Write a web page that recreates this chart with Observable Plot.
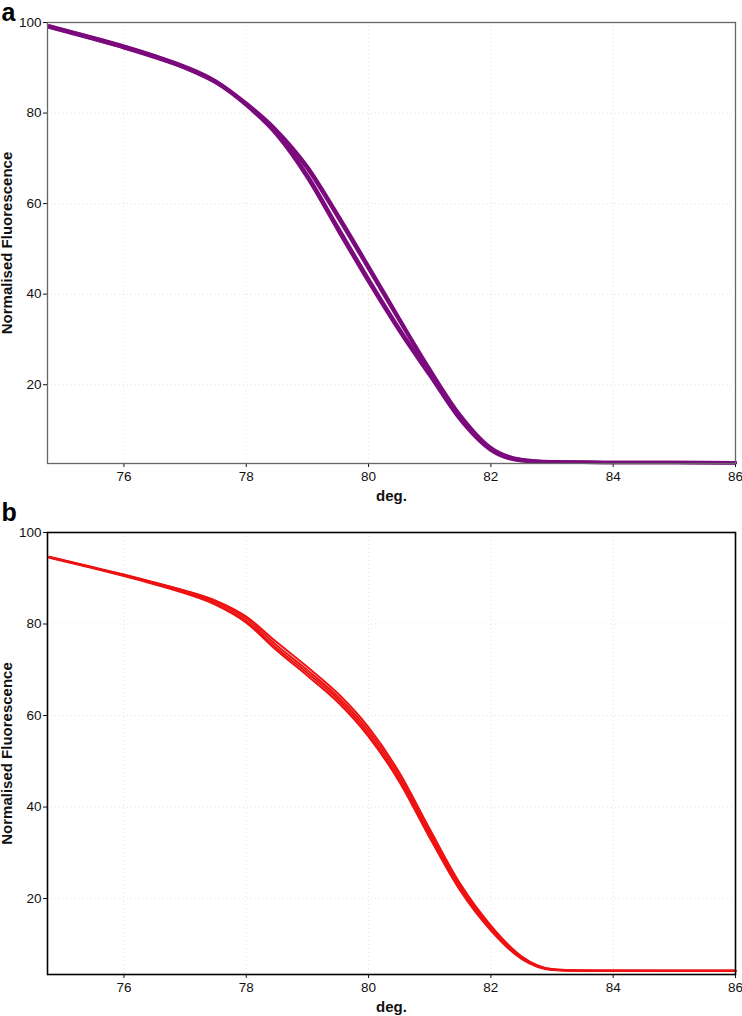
<!DOCTYPE html>
<html><head><meta charset="utf-8">
<script src="https://cdn.jsdelivr.net/npm/d3@7"></script>
<script src="https://cdn.jsdelivr.net/npm/@observablehq/plot@0.6"></script>
<style>
body{margin:0;background:#fff;}
#chart{width:742px;height:1016px;position:relative;background:#fff;}
svg{display:block}
g[aria-label="x-axis label"] text, g[aria-label="y-axis label"] text{font-weight:bold;font-size:15px;}
</style></head><body><div id="chart"></div>
<script>
// Temperatures (deg.)
const temps = [74.78, 75.5, 76, 76.5, 77, 77.5, 78, 78.5, 79, 79.5, 80, 80.5, 81, 81.5, 82, 82.5, 83, 83.5, 84, 85, 86];

// Panel a replicates (purple)
const a1 = [99.3, 96.7, 94.8, 92.7, 90.3, 87.1, 82.0, 75.5, 66.3, 54.8, 43.4, 32.5, 22.4, 12.5, 5.7, 3.3, 2.95, 2.9, 2.85, 2.85, 2.8];
const a2 = [99.0, 96.4, 94.5, 92.4, 90.0, 86.8, 81.7, 75.1, 65.7, 54.1, 42.7, 31.9, 22.0, 12.2, 5.5, 3.2, 2.9, 2.85, 2.8, 2.8, 2.75];
const a3 = [99.1, 96.6, 94.7, 92.6, 90.2, 87.0, 82.2, 76.2, 68.2, 57.5, 46.2, 34.7, 23.5, 13.3, 6.1, 3.5, 3.0, 2.9, 2.85, 2.85, 2.8];
const a4 = [98.9, 96.3, 94.4, 92.3, 89.9, 86.7, 81.9, 75.9, 67.7, 56.9, 45.6, 34.2, 23.1, 13.0, 5.9, 3.4, 2.95, 2.85, 2.8, 2.8, 2.75];

// Panel b replicates (red)
const b1 = [94.7, 92.4, 90.8, 89.1, 87.3, 85.1, 81.6, 76.0, 70.6, 64.8, 57.4, 47.6, 35.2, 23.2, 14.1, 7.4, 4.6, 4.3, 4.25, 4.2, 4.2];
const b2 = [94.6, 92.3, 90.7, 89.0, 87.2, 84.9, 81.2, 75.3, 69.9, 64.1, 56.7, 46.9, 34.5, 22.6, 13.7, 7.2, 4.5, 4.25, 4.2, 4.2, 4.2];
const b3 = [94.5, 92.2, 90.5, 88.7, 86.7, 84.2, 80.3, 74.2, 68.7, 62.9, 55.4, 45.6, 33.3, 21.7, 13.0, 6.8, 4.4, 4.2, 4.2, 4.2, 4.2];
const b4 = [94.6, 92.3, 90.6, 88.9, 86.9, 84.5, 80.7, 74.7, 69.3, 63.5, 56.0, 46.2, 33.9, 22.1, 13.3, 7.0, 4.45, 4.2, 4.2, 4.2, 4.2];

const xTicks = [76, 78, 80, 82, 84, 86];
const yTicks = [20, 40, 60, 80, 100];

function rows(series) {
  return series.flatMap((vals, i) => vals.map((v, j) => ({t: temps[j], v, rep: i})));
}

function panel({series, color, lineWidth, yMin, frameColor, frameWidth, letter, letterDy, letterAnchor, height, marginBottom}) {
  const grid = {stroke: "#ecd9b6", strokeOpacity: 0.8, strokeDasharray: "1,3", strokeWidth: 1};
  return Plot.plot({
    width: 742, height, marginTop: 22, marginLeft: 47, marginRight: 7, marginBottom,
    style: {fontFamily: "'Liberation Sans', Arial, sans-serif", fontSize: "13.5px", color: "#111", background: "#fff", overflow: "visible"},
    x: {domain: [74.75, 86]},
    y: {domain: [yMin, 100]},
    marks: [
      Plot.gridX(xTicks, grid),
      Plot.gridY(yTicks, grid),
      Plot.axisX({ticks: xTicks, tickSize: 4, tickPadding: 4, label: "deg.", labelAnchor: "center", labelArrow: "none", labelOffset: 37}),
      Plot.axisY({ticks: yTicks, tickSize: 4, tickPadding: 2, label: "Normalised Fluorescence", labelAnchor: "center", labelArrow: "none", labelOffset: 46}),
      Plot.line(rows(series), {x: "t", y: "v", z: "rep", stroke: color, strokeWidth: lineWidth, curve: "monotone-x"}),
      Plot.frame({stroke: frameColor, strokeWidth: frameWidth}),
      Plot.text([letter], {text: d => d, frameAnchor: "top-left", dx: -46, dy: letterDy, fontSize: 25, fontWeight: "bold", textAnchor: "start", lineAnchor: letterAnchor, fill: "#000"})
    ]
  });
}

const chart = document.getElementById("chart");
chart.append(panel({series: [a1, a2, a3, a4], color: "#7b0a7d", lineWidth: 3.2, yMin: 2.6, frameColor: "#666", frameWidth: 1.3, letter: "a", letterDy: -19, letterAnchor: "top", height: 510, marginBottom: 47}));
chart.append(panel({series: [b1, b2, b3, b4], color: "#ee1111", lineWidth: 2, yMin: 3.4, frameColor: "#000", frameWidth: 1.6, letter: "b", letterDy: -12, letterAnchor: "bottom", height: 506, marginBottom: 42}));
</script></body></html>
